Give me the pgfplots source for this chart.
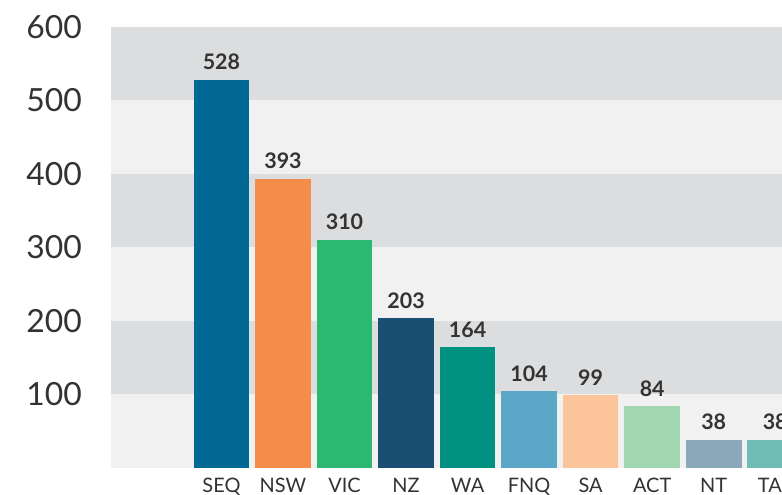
\documentclass[border=0pt]{standalone}
\usepackage{fontspec}
\setmainfont{Lato}
\usepackage{pgfplots}
\pgfplotsset{compat=1.18}
\definecolor{txt}{HTML}{333333}
\definecolor{bandD}{HTML}{DCDDDF}
\definecolor{bandL}{HTML}{F1F1F1}
\definecolor{cSEQ}{HTML}{006892}
\definecolor{cNSW}{HTML}{F58D4A}
\definecolor{cVIC}{HTML}{2DB872}
\definecolor{cNZ}{HTML}{1A4E72}
\definecolor{cWA}{HTML}{009180}
\definecolor{cFNQ}{HTML}{5CA6C7}
\definecolor{cSA}{HTML}{FBC49B}
\definecolor{cACT}{HTML}{A2D6B1}
\definecolor{cNT}{HTML}{8BA7BA}
\definecolor{cTAS}{HTML}{6FBDB5}
\begin{document}
\begin{tikzpicture}
\begin{axis}[name=a,
  width=671.3bp, height=441bp, scale only axis,
  xmin=-1.8, xmax=9.11, ymin=0, ymax=600,
  axis line style={draw=none},
  major tick length=0pt, tick style={draw=none},
  ytick={100,200,300,400,500,600},
  xtick={0,...,9},
  xticklabels={SEQ,NSW,VIC,NZ,WA,FNQ,SA,ACT,NT,TAS},
  /pgf/number format/assume math mode=true,
  yticklabel style={font=\fontsize{32}{32}\selectfont, text=txt, anchor=east, inner sep=0pt, xshift=-28.7bp},
  xticklabel style={font=\fontsize{20}{20}\selectfont, text=txt, anchor=north, inner sep=0pt, yshift=-10bp},
  ybar, bar width=55.6bp,
  every axis plot/.append style={draw=none, bar shift=0pt},
  nodes near coords,
  nodes near coords style={font=\bfseries\fontsize{21.5}{21.5}\selectfont, text=txt, anchor=south, inner sep=0pt, yshift=9.5bp},
]
\fill[bandL] (axis cs:-1.8,0) rectangle (axis cs:9.11,100);
\fill[bandD] (axis cs:-1.8,100) rectangle (axis cs:9.11,200);
\fill[bandL] (axis cs:-1.8,200) rectangle (axis cs:9.11,300);
\fill[bandD] (axis cs:-1.8,300) rectangle (axis cs:9.11,400);
\fill[bandL] (axis cs:-1.8,400) rectangle (axis cs:9.11,500);
\fill[bandD] (axis cs:-1.8,500) rectangle (axis cs:9.11,600);
\addplot[fill=cSEQ] coordinates {(0,528)};
\addplot[fill=cNSW] coordinates {(1,393)};
\addplot[fill=cVIC] coordinates {(2,310)};
\addplot[fill=cNZ] coordinates {(3,203)};
\addplot[fill=cWA] coordinates {(4,164)};
\addplot[fill=cFNQ] coordinates {(5,104)};
\addplot[fill=cSA] coordinates {(6,99)};
\addplot[fill=cACT] coordinates {(7,84)};
\addplot[fill=cNT] coordinates {(8,38)};
\addplot[fill=cTAS] coordinates {(9,38)};
\end{axis}
\pgfresetboundingbox
\path[use as bounding box] ([shift={(-110.7bp,-27.3bp)}]a.south west) rectangle ([shift={(0bp,26.7bp)}]a.north east);
\end{tikzpicture}
\end{document}
